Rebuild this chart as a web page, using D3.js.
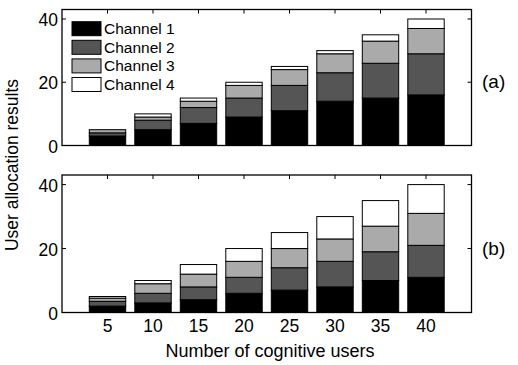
<!DOCTYPE html>
<html><head><meta charset="utf-8">
<script src="https://cdn.jsdelivr.net/npm/d3@7"></script>
<style>body{margin:0;background:#fff}svg{display:block}text{font-family:"Liberation Sans",Arial,sans-serif;fill:#000}</style>
</head><body><svg id="c" width="518" height="365"></svg>
<script>
const categories = [5, 10, 15, 20, 25, 30, 35, 40];
const seriesNames = ["Channel 1", "Channel 2", "Channel 3", "Channel 4"];
const colors = ["#000000", "#555555", "#aaaaaa", "#ffffff"];
// panel (a)
const a_ch1 = [3, 5, 7, 9, 11, 14, 15, 16];
const a_ch2 = [1, 3, 5, 6, 8, 9, 11, 13];
const a_ch3 = [1, 1, 2, 4, 5, 6, 7, 8];
const a_ch4 = [0, 1, 1, 1, 1, 1, 2, 3];
// panel (b)
const b_ch1 = [2, 3, 4, 6, 7, 8, 10, 11];
const b_ch2 = [1.5, 3, 4, 5, 7, 8, 9, 10];
const b_ch3 = [1, 3, 4, 5, 6, 7, 8, 10];
const b_ch4 = [0.5, 1, 3, 4, 5, 7, 8, 9];
const yTicks = [0, 20, 40];
const panelLabels = ["(a)", "(b)"];

const svg = d3.select("#c");
const x = d3.scaleLinear().domain([0, 9]).range([62, 471.5]);
const barW = (x(1) - x(0)) * 0.8;

const panels = [
  {series: [a_ch1, a_ch2, a_ch3, a_ch4], y: d3.scaleLinear().domain([0, 43]).range([145.5, 9.5]), label: panelLabels[0], showX: false},
  {series: [b_ch1, b_ch2, b_ch3, b_ch4], y: d3.scaleLinear().domain([0, 43]).range([312.5, 175]), label: panelLabels[1], showX: true}
];

panels.forEach((p, pi) => {
  const g = svg.append("g");
  const y = p.y;
  const rows = categories.map((c, i) => {
    const r = {cat: c, idx: i + 1};
    seriesNames.forEach((s, k) => r[s] = p.series[k][i]);
    return r;
  });
  const stacked = d3.stack().keys(seriesNames)(rows);
  stacked.forEach((layer, k) => {
    g.selectAll(null).data(layer).enter().append("rect")
      .attr("x", d => x(d.data.idx) - barW / 2)
      .attr("width", barW)
      .attr("y", d => y(d[1]))
      .attr("height", d => Math.max(0, y(d[0]) - y(d[1])))
      .attr("fill", colors[k])
      .attr("stroke", "#000")
      .attr("stroke-width", 1);
  });
  const [x0, x1] = x.range();
  const [yb, yt] = y.range();
  g.append("rect").attr("x", x0).attr("y", yt).attr("width", x1 - x0).attr("height", yb - yt)
    .attr("fill", "none").attr("stroke", "#000").attr("stroke-width", 1.3);
  yTicks.forEach(t => {
    g.append("line").attr("x1", x0).attr("x2", x0 + 4).attr("y1", y(t)).attr("y2", y(t)).attr("stroke", "#000").attr("stroke-width", 1);
    g.append("line").attr("x1", x1).attr("x2", x1 - 4).attr("y1", y(t)).attr("y2", y(t)).attr("stroke", "#000").attr("stroke-width", 1);
    g.append("text").attr("x", 58).attr("y", y(t) + 7).attr("text-anchor", "end").attr("font-size", 17.5).text(t);
  });
  categories.forEach((c, i) => {
    g.append("line").attr("x1", x(i + 1)).attr("x2", x(i + 1)).attr("y1", yt).attr("y2", yt + 4).attr("stroke", "#000").attr("stroke-width", 1);
    if (p.showX) {
      g.append("text").attr("x", x(i + 1)).attr("y", 332).attr("text-anchor", "middle").attr("font-size", 17.5).text(c);
    }
  });
  g.append("text").attr("x", 482).attr("y", y(20) + 6).attr("font-size", 19).text(p.label);
});

// legend
const lg = svg.append("g");
seriesNames.forEach((s, k) => {
  const cy = 28.7 + k * 18.6;
  lg.append("rect").attr("x", 72).attr("y", cy - 7).attr("width", 29).attr("height", 14)
    .attr("fill", colors[k]).attr("stroke", "#000").attr("stroke-width", 1);
  lg.append("text").attr("x", 104).attr("y", cy + 5.5).attr("font-size", 15.5).text(s);
});

svg.append("text").attr("transform", "translate(18,165) rotate(-90)").attr("text-anchor", "middle")
  .attr("font-size", 17.5).text("User allocation results");
svg.append("text").attr("x", 270).attr("y", 357).attr("text-anchor", "middle")
  .attr("font-size", 18).text("Number of cognitive users");
</script></body></html>
